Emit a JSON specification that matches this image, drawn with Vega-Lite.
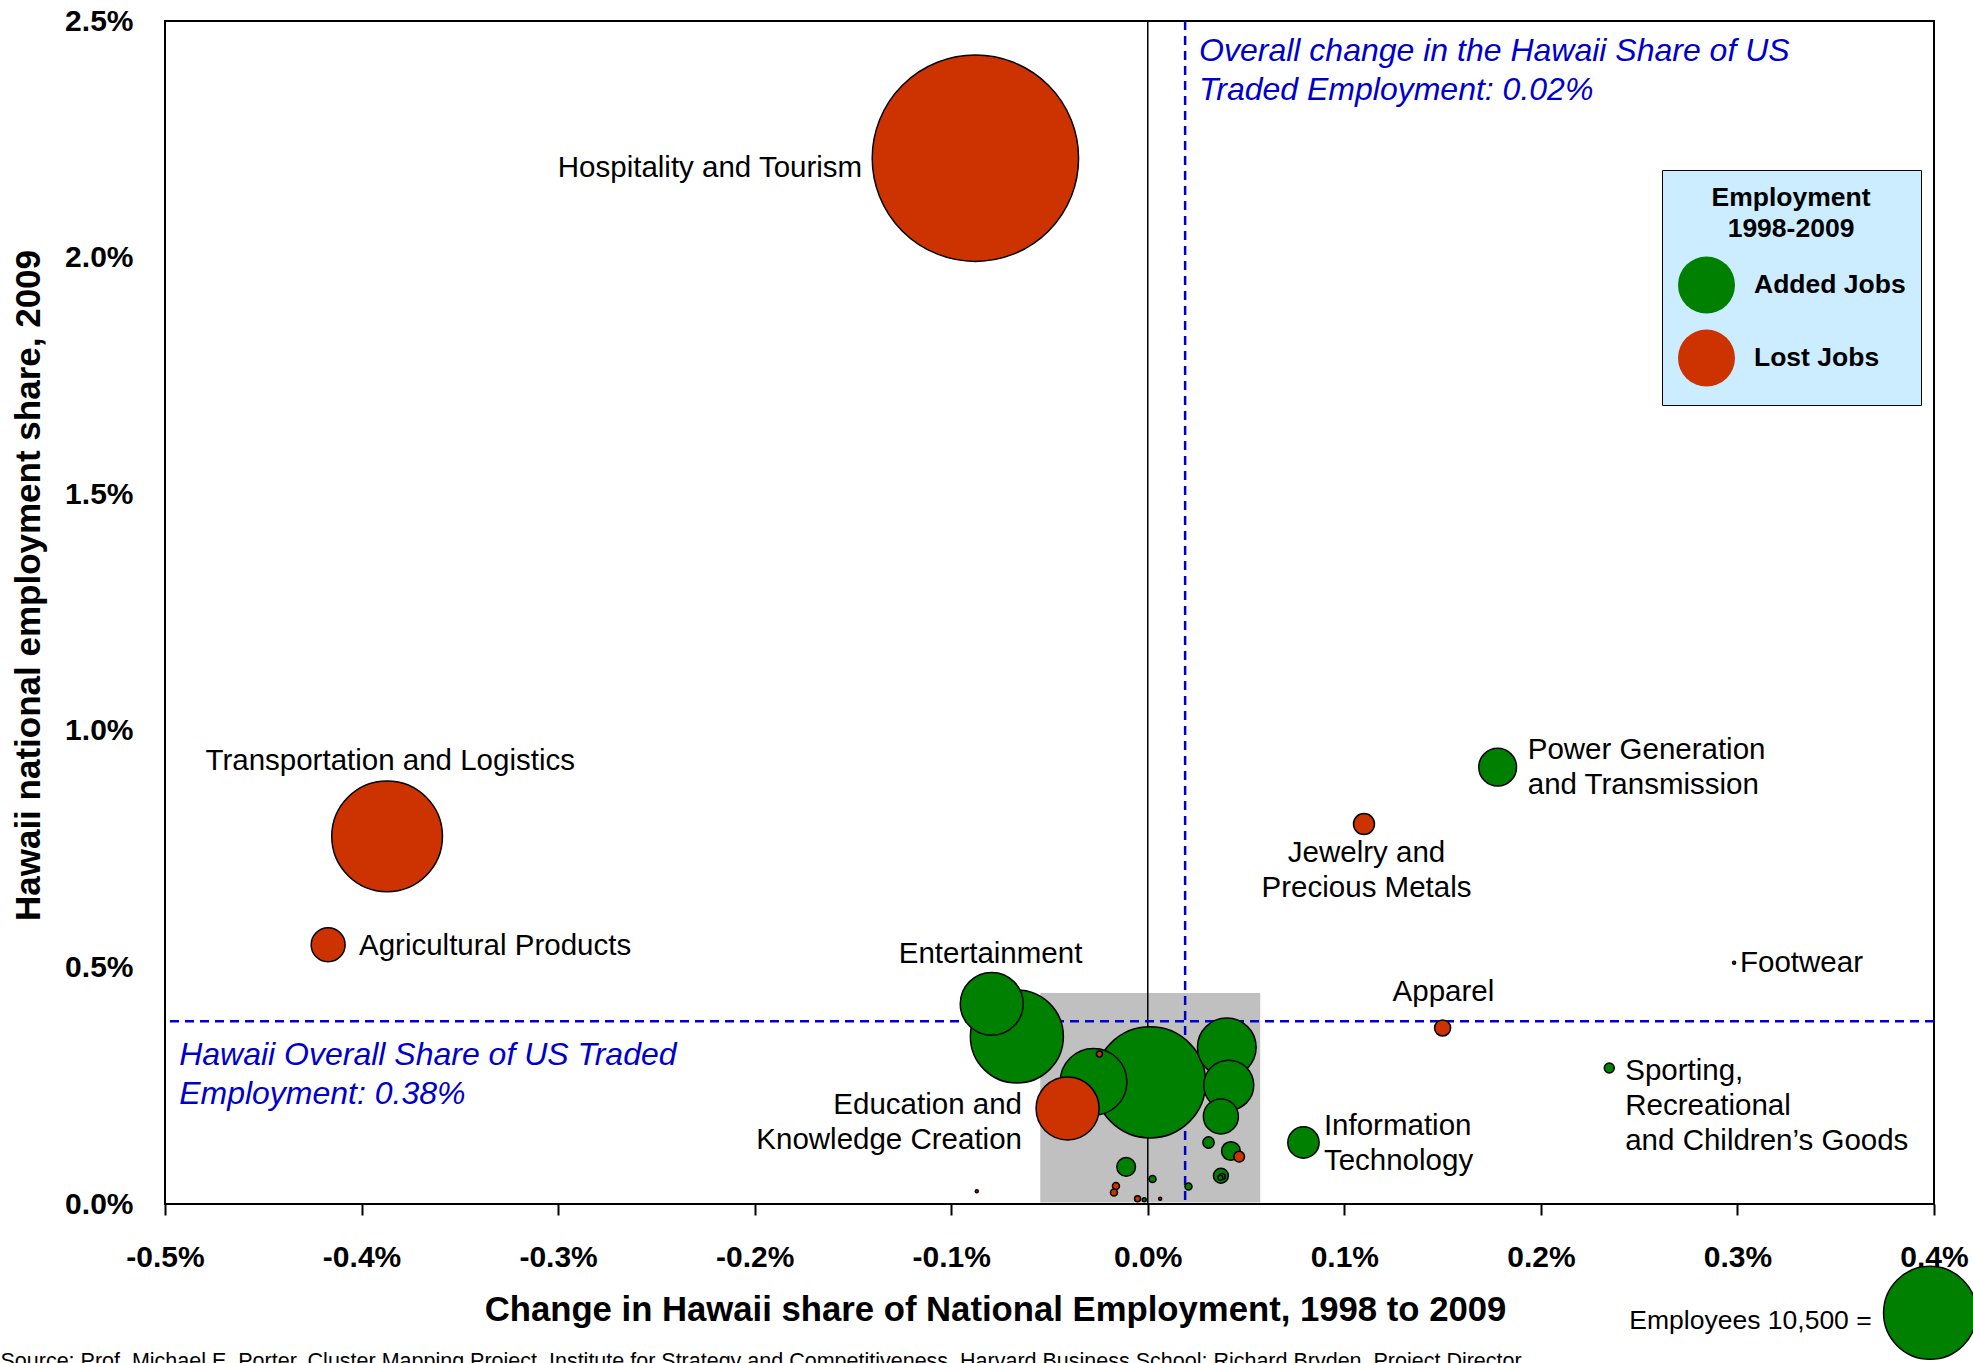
{
  "$schema": "https://vega.github.io/schema/vega-lite/v6.json",
  "width": 1769,
  "height": 1183,
  "autosize": {"type": "none"},
  "padding": {"left": 165, "top": 21, "right": 39, "bottom": 159},
  "background": "white",
  "config": {
    "view": {"stroke": "black", "strokeWidth": 2},
    "font": "Liberation Sans",
    "axis": {"labelFont": "Liberation Sans", "titleFont": "Liberation Sans", "labelColor": "black", "titleColor": "black", "grid": false, "domain": false, "labelFontWeight": "bold", "titleFontWeight": "bold"},
    "legend": {"labelFont": "Liberation Sans", "titleFont": "Liberation Sans"}
  },
  "datasets": {
    "zoomBox": [{"x": -0.0547, "x2": 0.0572, "y": 0.003, "y2": 0.446}],
    "zeroLine": [{"x": 0}],
    "avgChange": [{"x": 0.019}],
    "avgShare": [{"y": 0.386}],
    "clusters": [
      {"cluster": "Hospitality and Tourism", "x": -0.0877, "y": 2.21, "emp": 51700, "type": "Lost Jobs"},
      {"cluster": "Other", "x": 0.0012, "y": 0.257, "emp": 14960, "type": "Added Jobs"},
      {"cluster": "Transportation and Logistics", "x": -0.387, "y": 0.777, "emp": 14880, "type": "Lost Jobs"},
      {"cluster": "Other", "x": -0.0666, "y": 0.354, "emp": 10500, "type": "Added Jobs"},
      {"cluster": "Other", "x": -0.0276, "y": 0.258, "emp": 5400, "type": "Added Jobs"},
      {"cluster": "Education and Knowledge Creation", "x": -0.0408, "y": 0.202, "emp": 4820, "type": "Lost Jobs"},
      {"cluster": "Entertainment", "x": -0.0794, "y": 0.423, "emp": 4800, "type": "Added Jobs"},
      {"cluster": "Other", "x": 0.0402, "y": 0.331, "emp": 4180, "type": "Added Jobs"},
      {"cluster": "Other", "x": 0.0412, "y": 0.251, "emp": 3035, "type": "Added Jobs"},
      {"cluster": "Power Generation and Transmission", "x": 0.178, "y": 0.923, "emp": 1730, "type": "Added Jobs"},
      {"cluster": "Other", "x": 0.0372, "y": 0.185, "emp": 1490, "type": "Added Jobs"},
      {"cluster": "Agricultural Products", "x": -0.417, "y": 0.548, "emp": 1400, "type": "Lost Jobs"},
      {"cluster": "Information Technology", "x": 0.0792, "y": 0.13, "emp": 1190, "type": "Added Jobs"},
      {"cluster": "Jewelry and Precious Metals", "x": 0.11, "y": 0.803, "emp": 535, "type": "Lost Jobs"},
      {"cluster": "Other", "x": 0.0423, "y": 0.112, "emp": 424, "type": "Added Jobs"},
      {"cluster": "Other", "x": -0.011, "y": 0.0786, "emp": 424, "type": "Added Jobs"},
      {"cluster": "Apparel", "x": 0.15, "y": 0.372, "emp": 311, "type": "Lost Jobs"},
      {"cluster": "Other", "x": 0.0372, "y": 0.0596, "emp": 270, "type": "Added Jobs"},
      {"cluster": "Other", "x": 0.0309, "y": 0.13, "emp": 155, "type": "Added Jobs"},
      {"cluster": "Other", "x": 0.0465, "y": 0.1, "emp": 139, "type": "Lost Jobs"},
      {"cluster": "Sporting, Recreational and Children's Goods", "x": 0.2348, "y": 0.2873, "emp": 121, "type": "Added Jobs"},
      {"cluster": "Other", "x": 0.0024, "y": 0.053, "emp": 60, "type": "Added Jobs"},
      {"cluster": "Other", "x": 0.0207, "y": 0.037, "emp": 60, "type": "Added Jobs"},
      {"cluster": "Other", "x": -0.0162, "y": 0.038, "emp": 60, "type": "Lost Jobs"},
      {"cluster": "Other", "x": -0.0172, "y": 0.0243, "emp": 60, "type": "Lost Jobs"},
      {"cluster": "Other", "x": -0.0246, "y": 0.317, "emp": 44, "type": "Lost Jobs"},
      {"cluster": "Other", "x": -0.0052, "y": 0.011, "emp": 44, "type": "Lost Jobs"},
      {"cluster": "Other", "x": 0.0379, "y": 0.058, "emp": 44, "type": "Added Jobs"},
      {"cluster": "Other", "x": 0.0369, "y": 0.0555, "emp": 30, "type": "Added Jobs"},
      {"cluster": "Other", "x": -0.0018, "y": 0.009, "emp": 19, "type": "Added Jobs"},
      {"cluster": "Footwear", "x": 0.2983, "y": 0.51, "emp": 11, "type": "Lost Jobs"},
      {"cluster": "Other", "x": 0.0063, "y": 0.011, "emp": 11, "type": "Lost Jobs"},
      {"cluster": "Other", "x": -0.087, "y": 0.027, "emp": 11, "type": "Lost Jobs"}
    ],
    "labelsLeft": [
      {"text": "Transportation and Logistics", "x": -0.4794, "y": 0.9653},
      {"text": "Agricultural Products", "x": -0.4013, "y": 0.5743},
      {"text": "Power Generation\nand Transmission", "x": 0.1933, "y": 0.9892},
      {"text": "Footwear", "x": 0.3013, "y": 0.5384},
      {"text": "Sporting,\nRecreational\nand Children’s Goods", "x": 0.2429, "y": 0.3101},
      {"text": "Information\nTechnology", "x": 0.0896, "y": 0.194}
    ],
    "labelsRight": [
      {"text": "Hospitality and Tourism", "x": -0.1453, "y": 2.218},
      {"text": "Education and\nKnowledge Creation", "x": -0.064, "y": 0.2393}
    ],
    "labelsCenter": [
      {"text": "Jewelry and\nPrecious Metals", "x": 0.1113, "y": 0.7711},
      {"text": "Apparel", "x": 0.1504, "y": 0.4785},
      {"text": "Entertainment", "x": -0.08, "y": 0.5584}
    ],
    "notes": [
      {"text": "Overall change in the Hawaii Share of US\nTraded Employment: 0.02%", "x": 0.0261, "y": 2.4686},
      {"text": "Hawaii Overall Share of US Traded\nEmployment: 0.38%", "x": -0.4928, "y": 0.3463}
    ],
    "sizeKey": [{"x": 0.398, "y": -0.23, "emp": 10500}],
    "sizeKeyText": [{"text": "Employees 10,500 =", "x": 0.3683, "y": -0.2194}],
    "source": [{"text": "Source: Prof. Michael E. Porter, Cluster Mapping Project, Institute for Strategy and Competitiveness, Harvard Business School; Richard Bryden, Project Director", "x": -0.5837, "y": -0.3111}]
  },
  "layer": [
    {
      "data": {"name": "zoomBox"},
      "mark": {"type": "rect", "color": "#C0C0C0"},
      "encoding": {
        "x": {
          "field": "x", "type": "quantitative",
          "scale": {"domain": [-0.5, 0.4], "nice": false, "zero": false},
          "axis": {
            "values": [-0.5, -0.4, -0.3, -0.2, -0.1, 0, 0.1, 0.2, 0.3, 0.4],
            "labelExpr": "(datum.value < -0.00001 ? '-' : '') + format(abs(datum.value), '.1f') + '%'",
            "labelFontSize": 30, "labelPadding": 27,
            "ticks": true, "tickSize": 11, "tickWidth": 2, "tickColor": "black",
            "labelFlush": false, "labelOverlap": false, "labelBound": false,
            "title": "Change in Hawaii share of National Employment, 1998 to 2009",
            "titleFontSize": 34.7, "titleX": 830, "titleY": 116, "titleBaseline": "alphabetic", "titleAlign": "center"
          }
        },
        "x2": {"field": "x2"},
        "y": {
          "field": "y", "type": "quantitative",
          "scale": {"domain": [0, 2.5], "nice": false, "zero": false},
          "axis": {
            "values": [0, 0.5, 1, 1.5, 2, 2.5],
            "labelExpr": "format(datum.value, '.1f') + '%'",
            "labelFontSize": 30, "labelPadding": 32,
            "ticks": false, "tickSize": 0,
            "labelFlush": false, "labelOverlap": false, "labelBound": false,
            "title": "Hawaii national employment share, 2009",
            "titleFontSize": 35, "titleX": -137, "titleY": 564, "titleBaseline": "middle", "titleAlign": "center", "titleAngle": 270
          }
        },
        "y2": {"field": "y2"}
      }
    },
    {
      "data": {"name": "zeroLine"},
      "mark": {"type": "rule", "color": "black", "strokeWidth": 1.5},
      "encoding": {"x": {"field": "x", "type": "quantitative"}}
    },
    {
      "data": {"name": "avgChange"},
      "mark": {"type": "rule", "color": "#0000CC", "strokeWidth": 2.5, "strokeDash": [9, 6]},
      "encoding": {"x": {"field": "x", "type": "quantitative"}}
    },
    {
      "data": {"name": "avgShare"},
      "mark": {"type": "rule", "color": "#0000CC", "strokeWidth": 2.5, "strokeDash": [9, 6]},
      "encoding": {"y": {"field": "y", "type": "quantitative"}}
    },
    {
      "data": {"name": "clusters"},
      "mark": {"type": "circle", "opacity": 1, "stroke": "black", "strokeWidth": 1.5},
      "encoding": {
        "x": {"field": "x", "type": "quantitative"},
        "y": {"field": "y", "type": "quantitative"},
        "size": {"field": "emp", "type": "quantitative", "scale": {"type": "linear", "domain": [0, 10500], "range": [0, 8649]}, "legend": null},
        "color": {
          "field": "type", "type": "nominal",
          "scale": {"domain": ["Added Jobs", "Lost Jobs"], "range": ["#008000", "#CC3300"]},
          "legend": {
            "orient": "none", "legendX": 1497, "legendY": 149, "direction": "vertical",
            "title": ["Employment", "1998-2009"],
            "titleFontSize": 26.5, "titleFontWeight": "bold", "titleColor": "black",
            "titleAlign": "center", "titleAnchor": "middle", "titleLineHeight": 31, "titlePadding": 13,
            "labelFontSize": 26.5, "labelFontWeight": "bold", "labelColor": "black",
            "labelOffset": 18, "labelLimit": 500,
            "symbolType": "circle", "symbolSize": 3249, "symbolStrokeColor": "black", "symbolStrokeWidth": 1.5, "symbolOpacity": 1,
            "rowPadding": 10, "padding": 15,
            "fillColor": "#CCECFF", "strokeColor": "black", "cornerRadius": 0,
            "encode": {"symbols": {"update": {"fill": {"signal": "datum.value === 'Lost Jobs' ? '#C00000' : '#008000'"}}}}
          }
        }
      }
    },
    {
      "data": {"name": "labelsLeft"},
      "mark": {"type": "text", "align": "left", "baseline": "top", "fontSize": 29.5, "lineHeight": 35, "lineBreak": "\n", "color": "black"},
      "encoding": {"x": {"field": "x", "type": "quantitative"}, "y": {"field": "y", "type": "quantitative"}, "text": {"field": "text"}}
    },
    {
      "data": {"name": "labelsRight"},
      "mark": {"type": "text", "align": "right", "baseline": "top", "fontSize": 29.5, "lineHeight": 35, "lineBreak": "\n", "color": "black"},
      "encoding": {"x": {"field": "x", "type": "quantitative"}, "y": {"field": "y", "type": "quantitative"}, "text": {"field": "text"}}
    },
    {
      "data": {"name": "labelsCenter"},
      "mark": {"type": "text", "align": "center", "baseline": "top", "fontSize": 29.5, "lineHeight": 35, "lineBreak": "\n", "color": "black"},
      "encoding": {"x": {"field": "x", "type": "quantitative"}, "y": {"field": "y", "type": "quantitative"}, "text": {"field": "text"}}
    },
    {
      "data": {"name": "notes"},
      "mark": {"type": "text", "align": "left", "baseline": "top", "fontSize": 32, "fontStyle": "italic", "lineHeight": 39, "lineBreak": "\n", "color": "#0000CC"},
      "encoding": {"x": {"field": "x", "type": "quantitative"}, "y": {"field": "y", "type": "quantitative"}, "text": {"field": "text"}}
    },
    {
      "data": {"name": "sizeKey"},
      "mark": {"type": "circle", "opacity": 1, "color": "#008000", "stroke": "black", "strokeWidth": 1.5, "clip": false},
      "encoding": {
        "x": {"field": "x", "type": "quantitative"},
        "y": {"field": "y", "type": "quantitative"},
        "size": {"field": "emp", "type": "quantitative", "scale": {"type": "linear", "domain": [0, 10500], "range": [0, 8649]}, "legend": null}
      }
    },
    {
      "data": {"name": "sizeKeyText"},
      "mark": {"type": "text", "align": "right", "baseline": "top", "fontSize": 26.5, "color": "black", "clip": false},
      "encoding": {"x": {"field": "x", "type": "quantitative"}, "y": {"field": "y", "type": "quantitative"}, "text": {"field": "text"}}
    },
    {
      "data": {"name": "source"},
      "mark": {"type": "text", "align": "left", "baseline": "top", "fontSize": 21.5, "color": "black", "clip": false},
      "encoding": {"x": {"field": "x", "type": "quantitative"}, "y": {"field": "y", "type": "quantitative"}, "text": {"field": "text"}}
    }
  ]
}
